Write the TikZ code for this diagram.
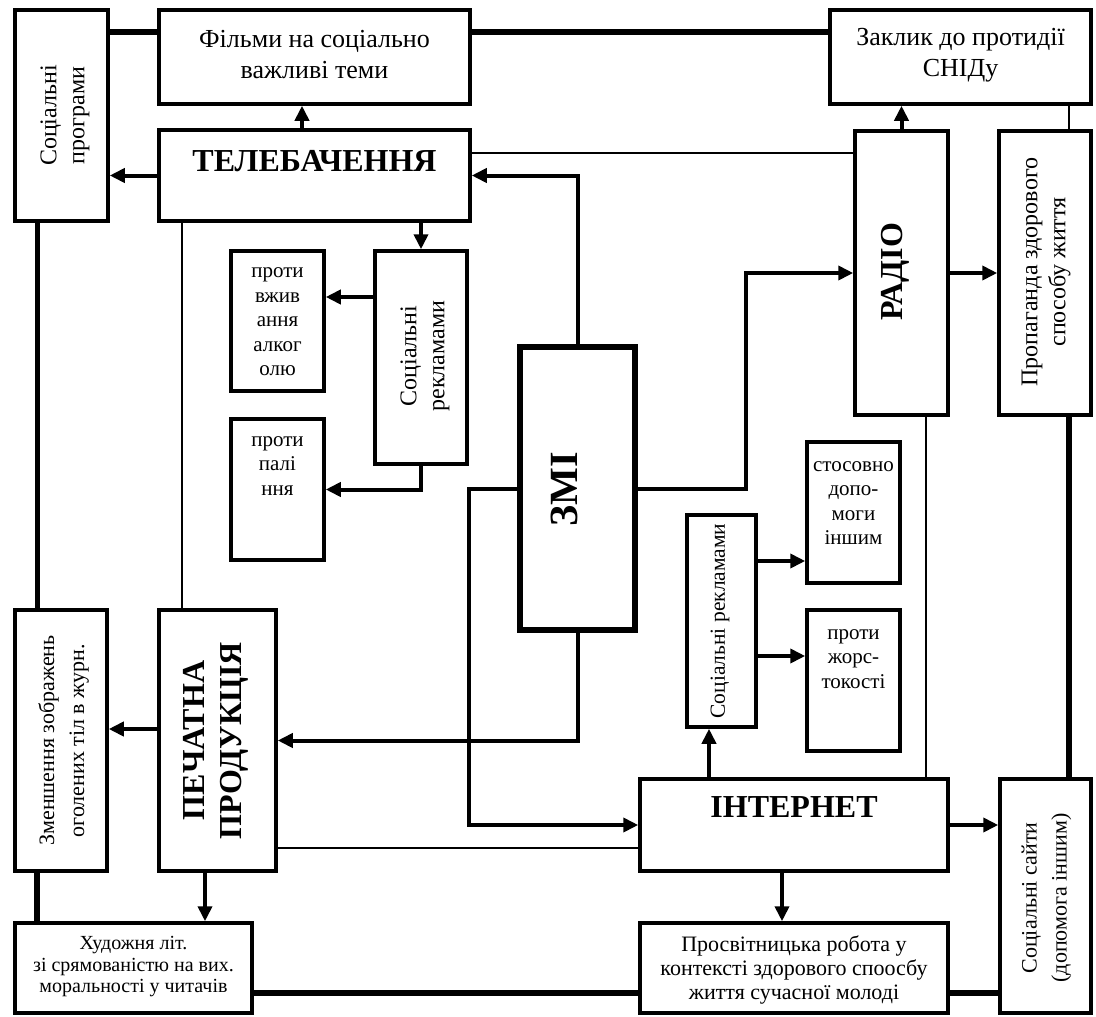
\documentclass[tikz,border=0pt]{standalone}
\usepackage{fontspec}
\setmainfont{Liberation Serif}
\usetikzlibrary{arrows.meta}
\begin{document}
\begin{tikzpicture}[x=1pt,y=-1pt,
  box/.style={draw, line width=3.5pt, inner sep=0pt, fill=white},
  thk/.style={line width=5.5pt},
  thn/.style={line width=2.5pt},
  arr/.style={line width=4pt, -{Triangle[length=15pt,width=14pt]}},
  tA/.style={font=\fontsize{26}{31}\selectfont, align=center, inner sep=0pt},
  tB/.style={font=\fontsize{24}{28}\selectfont, align=center, inner sep=0pt},
  tR/.style={font=\fontsize{22}{30}\selectfont, align=center, inner sep=0pt},
  tS/.style={font=\fontsize{21.5}{24}\selectfont, align=center, inner sep=0pt},
  tC/.style={font=\fontsize{21}{24.5}\selectfont, align=center, inner sep=0pt},
  tD/.style={font=\fontsize{22}{24}\selectfont, align=center, inner sep=0pt},
  tE/.style={font=\fontsize{20}{21.5}\selectfont, align=center, inner sep=0pt},
  tbold/.style={font=\fontsize{32}{37}\selectfont\bfseries, align=center, inner sep=0pt},
  tbig/.style={font=\fontsize{40}{44}\selectfont\bfseries, align=center, inner sep=0pt}]
\fill[white] (0,0) rectangle (1096,1017);
\useasboundingbox (0,0) rectangle (1096,1017);

% boxes
\node[box, minimum width=93pt, minimum height=211pt] (socprog) at (61.5,115.5) {};
\node[tB, rotate=90] at (65,115.5) {Соціальні\\програми};

\node[box, minimum width=311pt, minimum height=94pt] (films) at (314.5,57) {};
\node[tA] at (314.5,55) {Фільми на соціально\\важливі теми};

\node[box, minimum width=261pt, minimum height=94pt] (zaklyk) at (960.5,57) {};
\node[tA] at (960.5,55) {Заклик до протидії\\СНІДу};

\node[box, minimum width=311pt, minimum height=91pt] (tv) at (314.5,175.5) {};
\node[tbold] at (314.5,161) {ТЕЛЕБАЧЕННЯ};

\node[box, minimum width=92pt, minimum height=213pt] (socrek1) at (421,357.5) {};
\node[tB, rotate=90] at (425,356) {Соціальні\\рекламами};

\node[box, minimum width=93pt, minimum height=140pt] (alk) at (277.5,321) {};
\node[tC] at (277.5,322) {проти\\вжив\\ання\\алког\\олю};

\node[box, minimum width=93pt, minimum height=141pt] (smoke) at (277.5,489.5) {};
\node[tC] at (277.5,466) {проти\\палі\\ння};

\node[box, line width=6pt, minimum width=115pt, minimum height=283pt] (zmi) at (577.5,488.5) {};
\node[tbig, rotate=90] at (564,489) {ЗМІ};

\node[box, minimum width=93pt, minimum height=284pt] (radio) at (901.5,273) {};
\node[tbold, rotate=90] at (895,272) {РАДІО};

\node[box, minimum width=92pt, minimum height=284pt] (prop) at (1045,273) {};
\node[tB, rotate=90] at (1046,272) {Пропаганда здорового\\способу життя};

\node[box, minimum width=93pt, minimum height=141pt] (help) at (853.5,512.5) {};
\node[tC] at (853.5,503) {стосовно\\допо-\\моги\\іншим};

\node[box, minimum width=93pt, minimum height=141pt] (viol) at (853.5,680.5) {};
\node[tC] at (853.5,659) {проти\\жорс-\\токості};

\node[box, minimum width=69pt, minimum height=212pt] (socrek2) at (721.5,621) {};
\node[tS, rotate=90] at (720,621) {Соціальні рекламами};

\node[box, minimum width=308pt, minimum height=92pt] (internet) at (794,825) {};
\node[tbold] at (794,807) {ІНТЕРНЕТ};

\node[box, minimum width=91pt, minimum height=234pt] (socsites) at (1045.5,896) {};
\node[tR, rotate=90] at (1046.5,898) {Соціальні сайти\\(допомога іншим)};

\node[box, minimum width=308pt, minimum height=90pt] (prosv) at (794,968) {};
\node[tD] at (794,970) {Просвітницька робота у\\контексті здорового споосбу\\життя сучасної молоді};

\node[box, minimum width=237pt, minimum height=90pt] (art) at (133.5,968) {};
\node[tE] at (133.5,967) {Художня літ.\\зі срямованістю на вих.\\моральності у читачів};

\node[box, minimum width=117pt, minimum height=261pt] (print) at (217.5,740.5) {};
\node[tbold, rotate=90] at (216,740.5) {ПЕЧАТНА\\ПРОДУКЦІЯ};

\node[box, minimum width=92pt, minimum height=261pt] (reduce) at (61,740.5) {};
\node[tR, rotate=90] at (63.5,740.5) {Зменшення зображень\\оголених тіл в журн.};

% thick connectors
\draw[thk] ([yshift=25pt]films.west) -- ([yshift=25pt]films.west -| socprog.east);
\draw[thk] ([yshift=25pt]films.east) -- ([yshift=25pt]films.east -| zaklyk.west);
\draw[thk] ([xshift=-24pt]socprog.south) -- ([xshift=-24pt]socprog.south |- reduce.north);
\draw[thk] ([xshift=-24pt]reduce.south) -- ([xshift=-24pt]reduce.south |- art.north);
\draw[thk] ([yshift=-25pt]art.east) -- ([yshift=-25pt]art.east -| prosv.west);
\draw[thk] ([yshift=-25pt]prosv.east) -- ([yshift=-25pt]prosv.east -| socsites.west);
\draw[thk] ([xshift=24pt]prop.south) -- ([xshift=24pt]prop.south |- socsites.north);

% thin connectors
\draw[thn] ([yshift=22.5pt]tv.east) -- ([yshift=22.5pt]tv.east -| radio.west);
\draw[thn] ([xshift=-35.5pt]print.north |- tv.south) -- ([xshift=-35.5pt]print.north);
\draw[thn] ([xshift=108.5pt]zaklyk.south) -- ([xshift=108.5pt]zaklyk.south |- prop.north);
\draw[thn] ([xshift=24.5pt]radio.south) -- ([xshift=24.5pt]radio.south |- internet.north);
\draw[thn] ([yshift=-107.5pt]print.east) -- ([yshift=-107.5pt]print.east -| internet.west);

% arrows
\draw[arr] ([xshift=-12.5pt]tv.north) -- ([xshift=-12.5pt]tv.north |- films.south);
\draw[arr] (tv.west) -- (tv.west -| socprog.east);
\draw[arr] (socrek1.north |- tv.south) -- (socrek1.north);
\draw[arr] ([yshift=24pt]alk.east -| socrek1.west) -- ([yshift=24pt]alk.east);
\draw[arr] (socrek1.south) |- (smoke.east);
\draw[arr] (zmi.north) |- (tv.east);
\draw[arr] (zmi.east) -- ++(108,0) |- (radio.west);
\draw[arr] (zmi.west) -- ++(-48,0) |- (internet.west);
\draw[arr] (zmi.south) |- (print.east);
\draw[arr] (radio.north) -- (radio.north |- zaklyk.south);
\draw[arr] (radio.east) -- (prop.west);
\draw[arr] ([yshift=11.5pt]print.west) -- ([yshift=11.5pt]print.west -| reduce.east);
\draw[arr] ([xshift=-12.5pt]print.south) -- ([xshift=-12.5pt]print.south |- art.north);
\draw[arr] ([xshift=-12.5pt]socrek2.south |- internet.north) -- ([xshift=-12.5pt]socrek2.south);
\draw[arr] ([yshift=60pt]socrek2.east) -- ([yshift=60pt]socrek2.east -| help.west);
\draw[arr] ([yshift=-35pt]socrek2.east) -- ([yshift=-35pt]socrek2.east -| viol.west);
\draw[arr] (internet.east) -- (internet.east -| socsites.west);
\draw[arr] ([xshift=-12pt]internet.south) -- ([xshift=-12pt]internet.south |- prosv.north);
\end{tikzpicture}
\end{document}
